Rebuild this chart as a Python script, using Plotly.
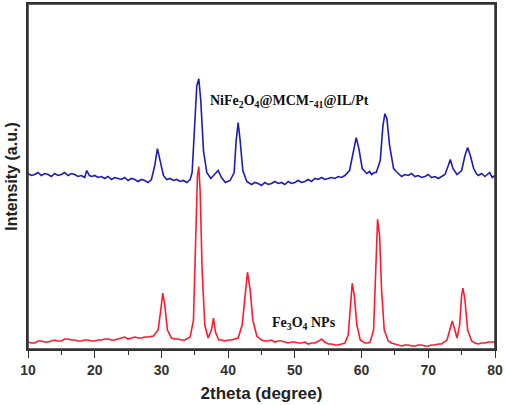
import plotly.graph_objects as go

# NiFe2O4@MCM-41@IL/Pt pattern (blue, offset upward)
blue_x = [10, 10.5, 11, 11.5, 12, 12.5, 13, 13.5, 14, 14.5, 15, 15.5, 16, 16.5, 17, 17.5, 18, 18.5, 18.8,
          19.2, 19.6, 20, 20.5, 21, 21.5, 22, 22.5, 23, 23.5, 24, 24.5, 25, 25.5, 26, 26.5, 27, 27.5, 28,
          28.5, 29, 29.4, 29.8, 30.3, 30.8, 31.3, 31.8, 32.3, 32.8, 33.3, 33.8, 34.3, 34.6, 35.0, 35.3, 35.6,
          35.9, 36.3, 36.8, 37.4, 38.0, 38.5, 39.0, 39.6, 40.3, 40.9, 41.2, 41.5, 41.8, 42.2, 42.8, 43.5,
          44.0, 44.5, 45.0, 45.5, 46.0, 46.5, 47.0, 47.5, 48.0, 48.5, 49.0, 49.5, 50.0, 50.5, 51.0, 51.5,
          52.0, 52.5, 53.0, 53.5, 54.0, 54.5, 55.0, 55.5, 56.0, 56.5, 57.0, 57.5, 58.2, 58.8, 59.2, 59.6,
          60.1, 60.5, 60.8, 61.2, 61.5, 61.9, 62.2, 62.8, 63.2, 63.5, 63.8, 64.2, 64.8, 65.2, 65.5, 66.0,
          66.5, 67.0, 67.5, 68.0, 68.5, 69.0, 69.5, 70.0, 70.5, 71.0, 71.5, 72.0, 72.5, 73.0, 73.3, 73.7,
          74.3, 75.0, 75.5, 75.9, 76.3, 76.8, 77.2, 77.5, 78.0, 78.5, 78.9, 79.2, 79.6, 80]
blue_y = [176, 174, 175, 177, 174, 176, 175, 173, 176, 174, 175, 177, 174, 176, 175, 173, 174, 172, 179,
          174, 173, 174, 172, 173, 171, 173, 170, 172, 171, 170, 172, 169, 171, 170, 168, 170, 169, 167,
          170, 184, 201, 189, 174, 170, 171, 169, 170, 168, 169, 167, 170, 177, 229, 264, 271,
          249, 199, 177, 171, 175, 179, 172, 167, 169, 177, 209, 227, 209, 179, 168, 165,
          167, 166, 164, 167, 165, 166, 168, 166, 167, 165, 168, 166, 167, 169, 167, 168,
          170, 168, 171, 170, 172, 170, 171, 172, 171, 173, 172, 174, 179, 199, 212, 201,
          181, 178, 176, 178, 175, 177, 177, 189, 224, 236, 231, 204, 181, 178, 176, 173,
          175, 174, 176, 173, 174, 172, 173, 175, 172, 173, 171, 173, 175, 184, 190, 181,
          175, 179, 194, 202, 194, 181, 176, 174, 176, 173, 175, 177, 172, 174]

# Fe3O4 NPs pattern (red)
red_x = [10, 10.5, 11, 11.5, 12, 12.5, 13, 13.5, 14, 14.5, 15, 15.5, 16, 16.5, 17, 17.5, 18, 18.5, 19,
         19.5, 20, 20.5, 21, 21.5, 22, 22.5, 23, 23.5, 24, 24.5, 25, 25.5, 26, 26.5, 27, 27.5, 28, 28.8,
         29.5, 29.9, 30.2, 30.5, 30.9, 31.5, 32.0, 32.5, 33.0, 33.5, 34.3, 34.8, 35.1, 35.4, 35.6, 35.8,
         36.1, 36.5, 37.0, 37.5, 37.8, 38.1, 38.6, 39.0, 39.5, 40.0, 40.5, 41.0, 41.5, 42.1, 42.5, 42.9,
         43.3, 43.7, 44.3, 45.0, 45.5, 46.0, 46.5, 47.0, 47.5, 48.0, 48.5, 49.0, 49.5, 50.0, 50.5, 51.0,
         51.5, 52.0, 52.5, 53.0, 53.6, 54.0, 54.5, 55.0, 55.5, 56.0, 56.5, 57.0, 57.5, 58.0, 58.3, 58.6,
         58.9, 59.3, 59.8, 60.5, 61.0, 61.3, 61.8, 62.1, 62.4, 62.7, 63.0, 63.4, 64.0, 64.5, 65.0, 65.5,
         66.0, 66.5, 67.0, 67.5, 68.0, 68.5, 69.0, 69.5, 70.0, 70.5, 71.0, 71.5, 72.0, 72.8, 73.3, 73.6,
         73.9, 74.3, 74.7, 75.0, 75.2, 75.5, 75.9, 76.5, 77.0, 77.5, 78.0, 78.5, 79.0, 79.5, 80]
red_y = [7, 6, 6, 8, 8, 7, 7, 8, 9, 8, 8, 10, 10, 9, 9, 8, 8, 9, 9,
         8, 8, 9, 9, 10, 10, 9, 9, 10, 11, 12, 10, 11, 12, 11, 11, 12, 12, 13,
         19, 39, 56, 44, 19, 11, 10, 10, 9, 9, 12, 29, 109, 174, 183, 159,
         79, 24, 11, 19, 31, 17, 9, 9, 8, 9, 9, 10, 11, 24, 54, 77,
         59, 29, 13, 9, 8, 8, 9, 7, 8, 8, 7, 6, 7, 7, 6, 6,
         7, 5, 6, 6, 8, 10, 7, 5, 5, 4, 4, 5, 6, 14, 44, 66,
         54, 24, 9, 6, 6, 7, 19, 79, 130, 114, 59, 19, 8, 6, 5, 4,
         3, 4, 4, 3, 3, 4, 4, 3, 3, 4, 4, 5, 5, 9, 21, 28,
         21, 11, 24, 54, 61, 49, 19, 8, 6, 5, 6, 6, 7, 7, 7]

x_ticks = [10, 20, 30, 40, 50, 60, 70, 80]

fig = go.Figure()
fig.add_trace(go.Scatter(x=blue_x, y=blue_y, mode="lines",
                         line=dict(color="#1c1cb8", width=1.6), showlegend=False))
fig.add_trace(go.Scatter(x=red_x, y=red_y, mode="lines",
                         line=dict(color="#ff1a2e", width=1.6), showlegend=False))

fig.add_annotation(x=37.0, y=248, xanchor="left", showarrow=False,
                   text="NiFe<sub>2</sub>O<sub>4</sub>@MCM-<sub>41</sub>@IL/Pt",
                   font=dict(family="Liberation Serif", size=14, color="#111", weight="bold"))
fig.add_annotation(x=46.3, y=26, xanchor="left", showarrow=False,
                   text="Fe<sub>3</sub>O<sub>4</sub> NPs",
                   font=dict(family="Liberation Serif", size=14, color="#111", weight="bold"))

# frame around the plotting area
fig.add_shape(type="rect", xref="paper", yref="paper", x0=0, y0=0, x1=1, y1=1,
              line=dict(color="#333", width=1.5), layer="above")

fig.update_xaxes(range=[10, 80], tickvals=x_ticks, ticks="outside", ticklen=7, tickwidth=1.3,
                 tickcolor="#333", showline=True, linecolor="#333", linewidth=1.5, mirror=True,
                 showgrid=False, zeroline=False, automargin=False,
                 minor=dict(dtick=5, tick0=10, ticks="outside", ticklen=4, tickcolor="#333"),
                 tickfont=dict(family="Liberation Sans", size=14, color="#333", weight="bold"),
                 title=dict(text="2theta (degree)", standoff=11,
                            font=dict(family="Liberation Sans", size=17, color="#222", weight="bold")))
fig.update_yaxes(range=[0, 346], showticklabels=False, ticks="", showline=True, linecolor="#333",
                 linewidth=1.5, mirror=True, showgrid=False, zeroline=False, automargin=False,
                 title=dict(text="Intensity (a.u.)", standoff=5,
                            font=dict(family="Liberation Sans", size=16, color="#222", weight="bold")))

fig.update_layout(width=505, height=405, margin=dict(l=28, r=10, t=4, b=56),
                  plot_bgcolor="white", paper_bgcolor="white")

# page body has a default 8px margin; drop it so the figure sits at the window corner
fig.write_html("out.html", config={"displayModeBar": False},
               post_script="document.body.style.margin='0';")
